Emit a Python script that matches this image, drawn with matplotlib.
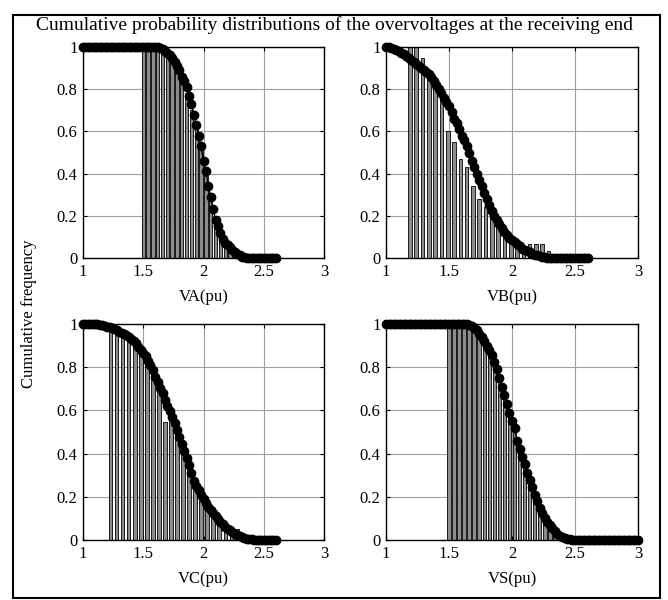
import numpy as np
import matplotlib
matplotlib.use("Agg")
import matplotlib.pyplot as plt
from matplotlib.patches import Rectangle

plt.rcParams['font.family'] = ['Liberation Serif', 'DejaVu Serif']
plt.rcParams['font.size'] = 12

title = "Cumulative probability distributions of the overvoltages at the receiving end"
ylabel = "Cumulative frequency"
xlabels = ["VA(pu)", "VB(pu)", "VC(pu)", "VS(pu)"]

# curves sampled every 0.02 pu
va_x = np.round(np.arange(1.00, 2.601, 0.02), 2)
va_y = [1.0] * 31 + [
    0.998, 0.995, 0.99, 0.98, 0.97, 0.96, 0.95, 0.93, 0.91, 0.89,
    0.86, 0.84, 0.81, 0.77, 0.73, 0.68, 0.63, 0.58, 0.53, 0.46,
    0.41, 0.34, 0.29, 0.23, 0.18, 0.15, 0.12, 0.09, 0.07, 0.06,
    0.05, 0.04, 0.03, 0.02, 0.012, 0.006, 0.003] + [0.0] * 13

vb_x = np.round(np.arange(1.00, 2.601, 0.02), 2)
vb_y = [
    1.0, 0.998, 0.995, 0.99, 0.985, 0.98, 0.972, 0.965, 0.957, 0.948,
    0.94, 0.93, 0.92, 0.91, 0.90, 0.89, 0.88, 0.87, 0.86, 0.84,
    0.82, 0.80, 0.78, 0.76, 0.74, 0.72, 0.69, 0.66, 0.64, 0.61,
    0.58, 0.56, 0.53, 0.50, 0.46, 0.43, 0.40, 0.37, 0.34, 0.31,
    0.28, 0.25, 0.225, 0.20, 0.18, 0.16, 0.14, 0.125, 0.11, 0.095,
    0.085, 0.075, 0.065, 0.055, 0.045, 0.04, 0.033, 0.027, 0.02, 0.016,
    0.012, 0.009, 0.006, 0.004, 0.002] + [0.0] * 16

vc_x = np.round(np.arange(1.00, 2.601, 0.02), 2)
vc_y = [1.0] * 6 + [
    0.998, 0.996, 0.994, 0.99, 0.988, 0.985, 0.98, 0.975, 0.97, 0.965,
    0.96, 0.955, 0.95, 0.94, 0.93, 0.92, 0.91, 0.895, 0.88, 0.865,
    0.85, 0.83, 0.81, 0.785, 0.755, 0.73, 0.705, 0.68, 0.65, 0.62,
    0.595, 0.57, 0.54, 0.51, 0.475, 0.445, 0.41, 0.38, 0.345, 0.31,
    0.275, 0.25, 0.23, 0.21, 0.19, 0.17, 0.155, 0.14, 0.125, 0.11,
    0.095, 0.085, 0.072, 0.062, 0.053, 0.045, 0.037, 0.03, 0.024, 0.018,
    0.013, 0.009, 0.006, 0.004, 0.003, 0.002, 0.001] + [0.0] * 8

vs_x = np.round(np.arange(1.00, 3.001, 0.02), 2)
vs_y = [1.0] * 32 + [
    0.998, 0.995, 0.99, 0.98, 0.97, 0.955, 0.94, 0.92, 0.90, 0.88,
    0.855, 0.825, 0.79, 0.75, 0.71, 0.67, 0.63, 0.59, 0.55, 0.52,
    0.46, 0.42, 0.385, 0.35, 0.31, 0.28, 0.245, 0.21, 0.18, 0.15,
    0.125, 0.10, 0.085, 0.07, 0.055, 0.04, 0.03, 0.02, 0.014, 0.009,
    0.005, 0.003, 0.001] + [0.0] * 26

# histogram bars (cumulative frequency)
va_bx = [1.50, 1.54, 1.58, 1.62, 1.66, 1.70, 1.74, 1.78, 1.82, 1.86, 1.90,
         1.94, 1.98, 2.02, 2.06, 2.10, 2.14, 2.18, 2.22, 2.26, 2.30]
va_bh = [1.0, 1.0, 1.0, 1.0, 0.99, 0.97, 0.94, 0.90, 0.85, 0.78, 0.70,
         0.61, 0.51, 0.39, 0.28, 0.18, 0.11, 0.07, 0.045, 0.025, 0.01]

vb_bx = [1.19, 1.24, 1.29, 1.34, 1.39, 1.44, 1.49, 1.54, 1.59, 1.64, 1.69, 1.74,
         1.79, 1.84, 1.89, 1.94, 1.99, 2.04, 2.09, 2.14, 2.19, 2.24, 2.29]
vb_bh = [1.0, 1.0, 0.95, 0.86, 0.82, 0.78, 0.60, 0.55, 0.47, 0.43, 0.34, 0.28,
         0.24, 0.20, 0.15, 0.12, 0.085, 0.056, 0.045, 0.064, 0.064, 0.064, 0.032]

vc_bx = [1.23, 1.28, 1.33, 1.38, 1.43, 1.48, 1.53, 1.58, 1.63, 1.68, 1.73,
         1.78, 1.83, 1.88, 1.93, 1.98, 2.03, 2.08, 2.13, 2.18, 2.23, 2.28]
vc_bh = [0.98, 0.96, 0.95, 0.94, 0.91, 0.87, 0.83, 0.78, 0.71, 0.545, 0.57,
         0.50, 0.42, 0.33, 0.25, 0.20, 0.15, 0.11, 0.08, 0.06, 0.04, 0.05]

vs_bx = [1.50, 1.54, 1.58, 1.62, 1.66, 1.70, 1.74, 1.78, 1.82, 1.86, 1.90, 1.94,
         1.98, 2.02, 2.06, 2.10, 2.14, 2.18, 2.22, 2.26, 2.30, 2.34, 2.38]
vs_bh = [1.0, 1.0, 1.0, 1.0, 0.99, 0.98, 0.95, 0.91, 0.87, 0.81, 0.74, 0.66,
         0.58, 0.50, 0.41, 0.34, 0.27, 0.20, 0.14, 0.09, 0.06, 0.035, 0.015]

curves = [(va_x, va_y), (vb_x, vb_y), (vc_x, vc_y), (vs_x, vs_y)]
bars = [(va_bx, va_bh), (vb_bx, vb_bh), (vc_bx, vc_bh), (vs_bx, vs_bh)]

fig = plt.figure(figsize=(6.68, 6.0), dpi=100)
fig.patches.append(Rectangle((13 / 668, 2 / 600), 647 / 668, 583 / 600,
                             transform=fig.transFigure, fill=False,
                             edgecolor='black', linewidth=1.5))

positions = [
    [83 / 668, 0.57, 241 / 668, 211 / 600],
    [386 / 668, 0.57, 252 / 668, 211 / 600],
    [83 / 668, 0.10, 241 / 668, 216 / 600],
    [386 / 668, 0.10, 252 / 668, 216 / 600],
]

for i in range(4):
    ax = fig.add_axes(positions[i])
    bx, bh = bars[i]
    ax.bar(bx, bh, width=0.028, color='#8c8c8c', edgecolor='black',
           linewidth=0.6, zorder=2)
    cx, cy = curves[i]
    ax.plot(cx, cy, '-o', color='black', linewidth=1, markersize=6, zorder=3,
            clip_on=False)
    ax.set_xlim(1, 3)
    ax.set_ylim(0, 1)
    ax.set_xticks([1, 1.5, 2, 2.5, 3])
    ax.set_xticklabels(["1", "1.5", "2", "2.5", "3"])
    ax.set_yticks([0, 0.2, 0.4, 0.6, 0.8, 1])
    ax.set_yticklabels(["0", "0.2", "0.4", "0.6", "0.8", "1"])
    ax.grid(True, color='#a0a0a0', linewidth=0.8, zorder=0)
    ax.set_axisbelow(True)
    ax.tick_params(direction='in', top=True, right=True, length=3,
                   labelsize=12, pad=4)
    for s in ax.spines.values():
        s.set_linewidth(1.0)
    ax.set_xlabel(xlabels[i], fontsize=12, labelpad=7)

fig.text(0.5, 1 - 25 / 600, title, ha='center', va='center', fontsize=14)
fig.text(29 / 668, 1 - 314 / 600, ylabel, ha='center', va='center',
         rotation=90, fontsize=12)

fig.savefig("out.png", dpi=100)
